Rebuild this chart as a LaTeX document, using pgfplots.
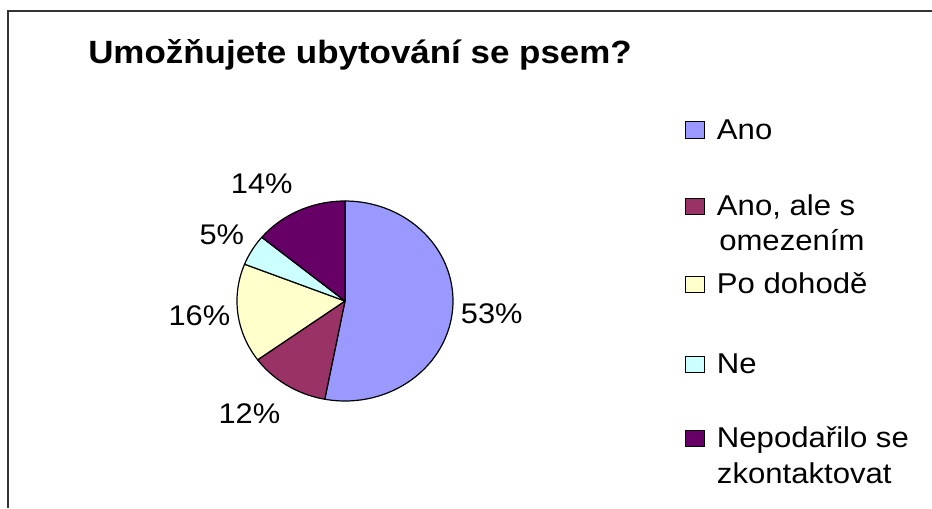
\documentclass[border=0pt]{standalone}
\usepackage{pgfplots}
\usepackage{pgfplotstable}
\pgfplotsset{compat=1.18}
\usepackage{fontspec}
\setmainfont{Liberation Sans}[FakeStretch=1.085]
\definecolor{pie0}{HTML}{9999FF}
\definecolor{pie1}{HTML}{993366}
\definecolor{pie2}{HTML}{FFFFCC}
\definecolor{pie3}{HTML}{CCFFFF}
\definecolor{pie4}{HTML}{660066}
\newcommand\lbl{\fontsize{21.5}{25}\selectfont}
\newcommand\dlbl{\fontsize{21.3}{25}\selectfont}

\pgfplotstableread{
label value
Ano 53
AnoAle 12
Po 16
Ne 5
Nep 14
}\piedata
\pgfplotstablecreatecol[create col/expr accum={\pgfmathaccuma + \thisrow{value}}{0}]{end}\piedata

\begin{document}
\begin{tikzpicture}
\useasboundingbox (0,0) rectangle (699pt,381pt);
\begin{axis}[
  scale only axis, width=699pt, height=381pt,
  xmin=0, xmax=932, ymin=0, ymax=508, y dir=reverse,
  axis lines=none, clip=false, anchor=south west, at={(0,0)},
]
% frame (partial, as in the cropped reference)
\draw[black!80, line width=1.2pt] (8,508) -- (8,10.7) -- (932,10.7);

% pie wedges from the table values
\pgfplotsinvokeforeach{0,...,4}{
  \pgfplotstablegetelem{#1}{end}\of\piedata \let\e\pgfplotsretval
  \pgfplotstablegetelem{#1}{value}\of\piedata \let\v\pgfplotsretval
  \pgfmathsetmacro\s{\e-\v}
  \edef\temp{\noexpand\addplot[fill=pie#1, draw=black, line width=0.9pt, line join=round, domain=\s:\e, samples=90]
    ({345+108*sin(3.6*x)},{301-100*cos(3.6*x)}) -- (345,301) -- cycle;}
  \temp
}

% title
\node[anchor=base west, inner sep=0, font=\bfseries\fontsize{24.15}{28}\selectfont] at (88,63.3) {Umožňujete ubytování se psem?};

% data labels
\node[anchor=base west, inner sep=0, font=\dlbl] at (460.7,323) {53\%};
\node[anchor=base west, inner sep=0, font=\dlbl] at (218.3,423.3) {12\%};
\node[anchor=base west, inner sep=0, font=\dlbl] at (168.3,325) {16\%};
\node[anchor=base west, inner sep=0, font=\dlbl] at (199.3,244) {5\%};
\node[anchor=base west, inner sep=0, font=\dlbl] at (230.7,193.3) {14\%};

% legend
\draw[fill=pie0, line width=0.8pt] (685.5,121.7) rectangle (704.5,138.3);
\node[anchor=base west, inner sep=0, font=\lbl] at (716.7,139) {Ano};
\draw[fill=pie1, line width=0.8pt] (685.5,198.3) rectangle (704.5,214.9);
\node[anchor=base west, inner sep=0, font=\lbl] at (716.7,215) {Ano, ale s};
\node[anchor=base west, inner sep=0, font=\lbl] at (719,250) {omezením};
\draw[fill=pie2, line width=0.8pt] (685.5,276.3) rectangle (704.5,292.9);
\node[anchor=base west, inner sep=0, font=\lbl] at (716.7,293) {Po dohodě};
\draw[fill=pie3, line width=0.8pt] (685.5,356.3) rectangle (704.5,372.9);
\node[anchor=base west, inner sep=0, font=\lbl] at (716.7,373) {Ne};
\draw[fill=pie4, line width=0.8pt] (685.5,430.3) rectangle (704.5,446.9);
\node[anchor=base west, inner sep=0, font=\lbl] at (716.7,447) {Nepodařilo se};
\node[anchor=base west, inner sep=0, font=\lbl] at (716.7,483) {zkontaktovat};
\end{axis}
\end{tikzpicture}
\end{document}
